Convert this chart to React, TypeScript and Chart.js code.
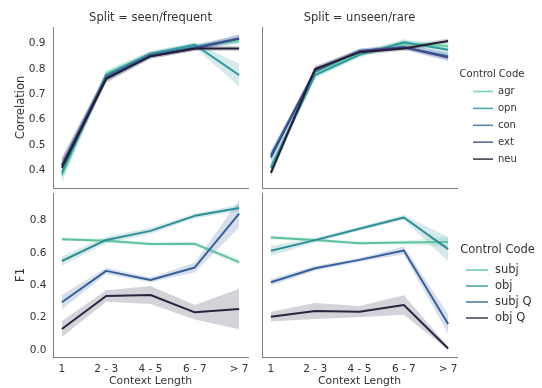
import React, { useEffect, useRef } from 'react';
import { Chart, registerables } from 'chart.js';

Chart.register(...registerables);

// ---------- data ----------
const contextLengths = ['1', '2 - 3', '4 - 5', '6 - 7', '> 7'];
const corrTicks = [0.4, 0.5, 0.6, 0.7, 0.8, 0.9];
const f1Ticks = [0.0, 0.2, 0.4, 0.6, 0.8];

const personalityCodes = ['agr', 'opn', 'con', 'ext', 'neu'];
const subjectivityCodes = ['subj', 'obj', 'subj Q', 'obj Q'];

// Correlation, Split = seen/frequent (mean and CI half-width)
const seenAgr = [0.38, 0.78, 0.86, 0.89, 0.91];
const seenAgrErr = [0.03, 0.015, 0.01, 0.01, 0.015];
const seenOpn = [0.39, 0.775, 0.86, 0.895, 0.775];
const seenOpnErr = [0.03, 0.015, 0.01, 0.01, 0.045];
const seenCon = [0.42, 0.77, 0.855, 0.885, 0.92];
const seenConErr = [0.03, 0.015, 0.01, 0.01, 0.015];
const seenExt = [0.42, 0.765, 0.85, 0.88, 0.92];
const seenExtErr = [0.03, 0.015, 0.01, 0.01, 0.015];
const seenNeu = [0.41, 0.76, 0.85, 0.88, 0.88];
const seenNeuErr = [0.03, 0.015, 0.01, 0.01, 0.01];

// Correlation, Split = unseen/rare
const unseenAgr = [0.41, 0.785, 0.86, 0.9, 0.89];
const unseenAgrErr = [0.02, 0.012, 0.01, 0.012, 0.015];
const unseenOpn = [0.41, 0.775, 0.855, 0.905, 0.875];
const unseenOpnErr = [0.02, 0.012, 0.01, 0.012, 0.015];
const unseenCon = [0.46, 0.79, 0.87, 0.885, 0.85];
const unseenConErr = [0.02, 0.012, 0.01, 0.01, 0.015];
const unseenExt = [0.45, 0.795, 0.87, 0.885, 0.845];
const unseenExtErr = [0.02, 0.012, 0.01, 0.01, 0.015];
const unseenNeu = [0.39, 0.8, 0.865, 0.88, 0.91];
const unseenNeuErr = [0.02, 0.012, 0.01, 0.01, 0.01];

// F1, Split = seen/frequent
const seenSubj = [0.685, 0.675, 0.655, 0.656, 0.543];
const seenSubjErr = [0.01, 0.012, 0.01, 0.012, 0.02];
const seenObj = [0.55, 0.68, 0.736, 0.829, 0.877];
const seenObjErr = [0.03, 0.02, 0.02, 0.015, 0.02];
const seenSubjQ = [0.295, 0.489, 0.433, 0.51, 0.842];
const seenSubjQErr = [0.045, 0.02, 0.015, 0.03, 0.085];
const seenObjQ = [0.13, 0.334, 0.34, 0.233, 0.254];
const seenObjQErr = [0.05, 0.035, 0.055, 0.045, 0.125];

// F1, Split = unseen/rare
const unseenSubj = [0.695, 0.679, 0.66, 0.665, 0.667];
const unseenSubjErr = [0.012, 0.012, 0.01, 0.012, 0.03];
const unseenObj = [0.613, 0.679, 0.749, 0.819, 0.623];
const unseenObjErr = [0.03, 0.015, 0.012, 0.015, 0.075];
const unseenSubjQ = [0.419, 0.505, 0.557, 0.615, 0.161];
const unseenSubjQErr = [0.02, 0.015, 0.012, 0.025, 0.06];
const unseenObjQ = [0.206, 0.241, 0.237, 0.278, 0.01];
const unseenObjQErr = [0.03, 0.05, 0.035, 0.06, 0.01];

// ---------- styles ----------
const personalityColors = ['#5fcfa5', '#2f9a9c', '#3a6ea7', '#3f4a8c', '#231c34'];
const subjectivityColors = ['#5ec39d', '#2d8f96', '#36609d', '#2b2440'];
const FONT = '"DejaVu Sans", sans-serif';
const TEXT = '#333333';
const SPINE = '#808080';
const FIG_W = 542;
const FIG_H = 388;

type Series = { label: string; color: string; mean: number[]; err: number[] };

const seenCorr: Series[] = [
  { label: personalityCodes[0], color: personalityColors[0], mean: seenAgr, err: seenAgrErr },
  { label: personalityCodes[1], color: personalityColors[1], mean: seenOpn, err: seenOpnErr },
  { label: personalityCodes[2], color: personalityColors[2], mean: seenCon, err: seenConErr },
  { label: personalityCodes[3], color: personalityColors[3], mean: seenExt, err: seenExtErr },
  { label: personalityCodes[4], color: personalityColors[4], mean: seenNeu, err: seenNeuErr },
];
const unseenCorr: Series[] = [
  { label: personalityCodes[0], color: personalityColors[0], mean: unseenAgr, err: unseenAgrErr },
  { label: personalityCodes[1], color: personalityColors[1], mean: unseenOpn, err: unseenOpnErr },
  { label: personalityCodes[2], color: personalityColors[2], mean: unseenCon, err: unseenConErr },
  { label: personalityCodes[3], color: personalityColors[3], mean: unseenExt, err: unseenExtErr },
  { label: personalityCodes[4], color: personalityColors[4], mean: unseenNeu, err: unseenNeuErr },
];
const seenF1: Series[] = [
  { label: subjectivityCodes[0], color: subjectivityColors[0], mean: seenSubj, err: seenSubjErr },
  { label: subjectivityCodes[1], color: subjectivityColors[1], mean: seenObj, err: seenObjErr },
  { label: subjectivityCodes[2], color: subjectivityColors[2], mean: seenSubjQ, err: seenSubjQErr },
  { label: subjectivityCodes[3], color: subjectivityColors[3], mean: seenObjQ, err: seenObjQErr },
];
const unseenF1: Series[] = [
  { label: subjectivityCodes[0], color: subjectivityColors[0], mean: unseenSubj, err: unseenSubjErr },
  { label: subjectivityCodes[1], color: subjectivityColors[1], mean: unseenObj, err: unseenObjErr },
  { label: subjectivityCodes[2], color: subjectivityColors[2], mean: unseenSubjQ, err: unseenSubjQErr },
  { label: subjectivityCodes[3], color: subjectivityColors[3], mean: unseenObjQ, err: unseenObjQErr },
];

function rgba(hex: string, a: number) {
  const n = parseInt(hex.slice(1), 16);
  return `rgba(${(n >> 16) & 255},${(n >> 8) & 255},${n & 255},${a})`;
}

type LegendCfg = {
  title: string;
  fontSize: number;
  titleX: number;
  titleY: number;
  lineX0: number;
  lineX1: number;
  textX: number;
  rowY0: number;
  rowStep: number;
};

function legendPlugin(series: Series[], cfg: LegendCfg) {
  return {
    id: 'facetLegend',
    afterDraw(chart: any) {
      const ctx = chart.ctx as CanvasRenderingContext2D;
      ctx.save();
      ctx.font = `${cfg.fontSize}px ${FONT}`;
      ctx.fillStyle = TEXT;
      ctx.textBaseline = 'middle';
      ctx.textAlign = 'center';
      ctx.fillText(cfg.title, cfg.titleX, cfg.titleY);
      ctx.textAlign = 'left';
      series.forEach((s, i) => {
        const y = cfg.rowY0 + i * cfg.rowStep;
        ctx.strokeStyle = s.color;
        ctx.globalAlpha = 0.85;
        ctx.lineWidth = 1.6;
        ctx.beginPath();
        ctx.moveTo(cfg.lineX0, y);
        ctx.lineTo(cfg.lineX1, y);
        ctx.stroke();
        ctx.globalAlpha = 1;
        ctx.fillText(s.label, cfg.textX, y);
      });
      ctx.restore();
    },
  };
}

function facetTitlePlugin(text: string, y: number, size: number) {
  return {
    id: 'facetTitle',
    afterDraw(chart: any) {
      const ctx = chart.ctx as CanvasRenderingContext2D;
      const a = chart.chartArea;
      ctx.save();
      ctx.font = `${size}px ${FONT}`;
      ctx.fillStyle = TEXT;
      ctx.textAlign = 'center';
      ctx.textBaseline = 'middle';
      ctx.fillText(text, (a.left + a.right) / 2, y);
      ctx.restore();
    },
  };
}

type PanelDef = {
  area: { l: number; t: number; r: number; b: number };
  series: Series[];
  yMin: number;
  yMax: number;
  yTicks: number[];
  yTickPad: number;
  showX: boolean;
  showY: boolean;
  title?: string;
  xTitle?: string;
  yTitle?: string;
  legend?: LegendCfg;
};

// Every panel canvas covers the full figure; the chart area is placed by padding.
const panels: PanelDef[] = [
  {
    area: { l: 53, t: 27, r: 248, b: 188 },
    series: seenCorr, yMin: 0.33, yMax: 0.965, yTicks: corrTicks, yTickPad: 7.5,
    showX: false, showY: true, title: 'Split = seen/frequent', yTitle: 'Correlation',
  },
  {
    area: { l: 262, t: 27, r: 457, b: 188 },
    series: unseenCorr, yMin: 0.33, yMax: 0.965, yTicks: corrTicks, yTickPad: 7.5,
    showX: false, showY: false, title: 'Split = unseen/rare',
    legend: {
      title: 'Control Code', fontSize: 10, titleX: 492, titleY: 74,
      lineX0: 473, lineX1: 493, textX: 498, rowY0: 91.5, rowStep: 16.9,
    },
  },
  {
    area: { l: 53, t: 193, r: 248, b: 357 },
    series: seenF1, yMin: -0.043, yMax: 0.97, yTicks: f1Ticks, yTickPad: 6.5,
    showX: true, showY: true, xTitle: 'Context Length', yTitle: 'F1',
  },
  {
    area: { l: 262, t: 193, r: 457, b: 357 },
    series: unseenF1, yMin: -0.043, yMax: 0.97, yTicks: f1Ticks, yTickPad: 6.5,
    showX: true, showY: false, xTitle: 'Context Length',
    legend: {
      title: 'Control Code', fontSize: 11.5, titleX: 497.5, titleY: 250,
      lineX0: 466, lineX1: 488, textX: 495, rowY0: 270, rowStep: 16,
    },
  },
];

function buildDatasets(series: Series[]) {
  const ds: any[] = [];
  series.forEach((s, i) => {
    ds.push({
      label: s.label + ' lo',
      data: s.mean.map((m, k) => ({ x: k, y: m - s.err[k] })),
      borderWidth: 0,
      pointRadius: 0,
      fill: false,
      order: 100 - i,
    });
    ds.push({
      label: s.label + ' hi',
      data: s.mean.map((m, k) => ({ x: k, y: m + s.err[k] })),
      borderWidth: 0,
      pointRadius: 0,
      backgroundColor: rgba(s.color, 0.2),
      fill: '-1',
      order: 100 - i,
    });
    ds.push({
      label: s.label,
      data: s.mean.map((m, k) => ({ x: k, y: m })),
      borderColor: s.color,
      borderWidth: 2,
      pointRadius: 0,
      fill: false,
      tension: 0,
      borderJoinStyle: 'round',
      borderCapStyle: 'butt',
      order: 50 - i,
    });
  });
  return ds;
}

function Panel({ def }: { def: PanelDef }) {
  const ref = useRef<HTMLCanvasElement | null>(null);
  useEffect(() => {
    if (!ref.current) return;
    const plugins: any[] = [];
    if (def.title) plugins.push(facetTitlePlugin(def.title, 18, 11.5));
    if (def.legend) plugins.push(legendPlugin(def.series, def.legend));
    const chart = new Chart(ref.current, {
      type: 'line',
      data: { datasets: buildDatasets(def.series) },
      plugins,
      options: {
        animation: false,
        responsive: false,
        devicePixelRatio: 1,
        events: [],
        layout: {
          padding: {
            left: 0,
            top: def.area.t,
            right: FIG_W - def.area.r,
            bottom: 0,
          },
        },
        plugins: {
          legend: { display: false },
          tooltip: { enabled: false },
          title: { display: false },
        },
        scales: {
          x: {
            type: 'linear',
            min: -0.2,
            max: 4.2,
            grid: { display: false, drawTicks: false },
            border: { display: true, color: SPINE, width: 1 },
            afterBuildTicks: (s: any) => {
              s.ticks = contextLengths.map((_, i) => ({ value: i }));
            },
            afterFit: (s: any) => {
              s.height = FIG_H - def.area.b;
            },
            ticks: {
              display: def.showX,
              autoSkip: false,
              maxRotation: 0,
              padding: 6,
              color: TEXT,
              font: { family: FONT, size: 10.5 },
              callback: (v: any) => contextLengths[Number(v)] ?? '',
            },
            title: {
              display: !!def.xTitle,
              text: def.xTitle || '',
              color: TEXT,
              font: { family: FONT, size: 10.8, lineHeight: 1.2 },
              padding: { top: 0, bottom: 0 },
            },
          },
          y: {
            type: 'linear',
            min: def.yMin,
            max: def.yMax,
            grid: { display: false, drawTicks: false },
            border: { display: true, color: SPINE, width: 1 },
            afterBuildTicks: (s: any) => {
              s.ticks = def.yTicks.map((v) => ({ value: v }));
            },
            afterFit: (s: any) => {
              s.width = def.area.l;
            },
            ticks: {
              display: def.showY,
              autoSkip: false,
              padding: def.yTickPad,
              color: TEXT,
              font: { family: FONT, size: 10.5 },
              callback: (v: any) => Number(v).toFixed(1),
            },
            title: {
              display: !!def.yTitle,
              text: def.yTitle || '',
              color: TEXT,
              font: { family: FONT, size: 11.5, lineHeight: 1.2 },
              padding: { top: 14.1, bottom: 0 },
            },
          },
        },
      } as any,
    });
    return () => chart.destroy();
  }, [def]);
  return (
    <canvas
      ref={ref}
      width={FIG_W}
      height={FIG_H}
      style={{ position: 'absolute', left: 0, top: 0, width: FIG_W, height: FIG_H }}
    />
  );
}

export default function App() {
  return (
    <div
      style={{
        position: 'fixed',
        left: 0,
        top: 0,
        width: FIG_W,
        height: FIG_H,
        background: '#ffffff',
        overflow: 'hidden',
      }}
    >
      {panels.map((p, i) => (
        <Panel key={i} def={p} />
      ))}
    </div>
  );
}
